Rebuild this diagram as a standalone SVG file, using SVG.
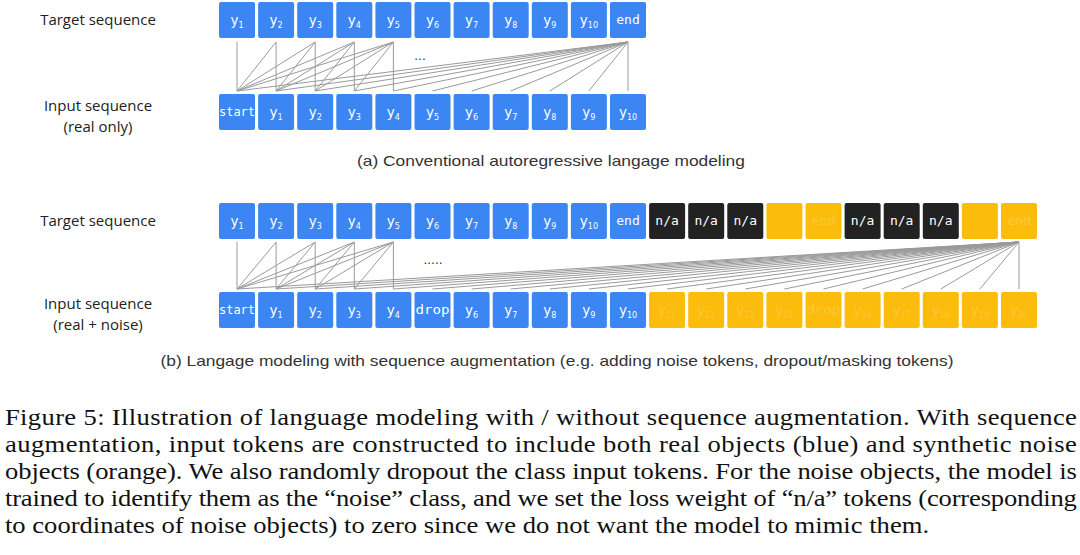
<svg xmlns="http://www.w3.org/2000/svg" width="1080" height="555" viewBox="0 0 1080 555">
<style>
.b{fill:#3b86f2}
.k{fill:#222222}
.o{fill:#fcbc0c}
.t{font-family:"DejaVu Sans",sans-serif;font-size:13.5px;fill:#ffffff;text-anchor:middle}
.m{font-family:"DejaVu Sans Mono",monospace;font-size:13px;fill:#ffffff;text-anchor:middle}
.f{fill:#ffffff;fill-opacity:0.2}
.s{font-size:8px}
.lab{font-family:"Open Sans",sans-serif;font-size:15px;fill:#222;text-anchor:middle}
.sub{font-family:"Liberation Sans",sans-serif;font-size:15px;fill:#333;text-anchor:middle}
.cap{font-family:"Liberation Serif",serif;font-size:23px;fill:#111}
.c line{stroke:#9a9a9a;stroke-width:1}
</style>
<rect width="1080" height="555" fill="#ffffff"/>

<!-- labels -->
<g id="labels">
<text class="lab" x="98" y="25">Target sequence</text>
<text class="lab" x="98" y="111">Input sequence</text>
<text class="lab" x="98" y="132">(real only)</text>
<text class="lab" x="98" y="226">Target sequence</text>
<text class="lab" x="98" y="309">Input sequence</text>
<text class="lab" x="98" y="330">(real + noise)</text>
<g transform="scale(1.157 1)">
<text class="sub" x="476.2" y="166">(a) Conventional autoregressive langage modeling</text>
<text class="sub" x="481.4" y="366">(b) Langage modeling with sequence augmentation (e.g. adding noise tokens, dropout/masking tokens)</text>
</g>
<text x="420" y="60" style="font-family:'DejaVu Sans',sans-serif;font-size:12px;fill:#333;text-anchor:middle">...</text>
<text x="433" y="264" style="font-family:'DejaVu Sans',sans-serif;font-size:12px;fill:#333;text-anchor:middle">.....</text>
</g>

<!-- connectors -->
<g id="connectors" class="c">
<line x1="237" y1="42" x2="237" y2="91"/>
<line x1="276.1" y1="42" x2="237" y2="91"/><line x1="276.1" y1="42" x2="276.1" y2="91"/>
<line x1="315.2" y1="42" x2="237" y2="91"/><line x1="315.2" y1="42" x2="276.1" y2="91"/><line x1="315.2" y1="42" x2="315.2" y2="91"/>
<line x1="354.3" y1="42" x2="237" y2="91"/><line x1="354.3" y1="42" x2="276.1" y2="91"/><line x1="354.3" y1="42" x2="315.2" y2="91"/><line x1="354.3" y1="42" x2="354.3" y2="91"/>
<line x1="393.4" y1="42" x2="237" y2="91"/><line x1="393.4" y1="42" x2="276.1" y2="91"/><line x1="393.4" y1="42" x2="315.2" y2="91"/><line x1="393.4" y1="42" x2="354.3" y2="91"/><line x1="393.4" y1="42" x2="393.4" y2="91"/>
<line x1="628" y1="42" x2="237" y2="91"/><line x1="628" y1="42" x2="276.1" y2="91"/><line x1="628" y1="42" x2="315.2" y2="91"/><line x1="628" y1="42" x2="354.3" y2="91"/><line x1="628" y1="42" x2="393.4" y2="91"/><line x1="628" y1="42" x2="432.5" y2="91"/><line x1="628" y1="42" x2="471.6" y2="91"/><line x1="628" y1="42" x2="510.7" y2="91"/><line x1="628" y1="42" x2="549.8" y2="91"/><line x1="628" y1="42" x2="588.9" y2="91"/><line x1="628" y1="42" x2="628" y2="91"/>

<line x1="237" y1="242" x2="237" y2="289"/>
<line x1="276.1" y1="242" x2="237" y2="289"/><line x1="276.1" y1="242" x2="276.1" y2="289"/>
<line x1="315.2" y1="242" x2="237" y2="289"/><line x1="315.2" y1="242" x2="276.1" y2="289"/><line x1="315.2" y1="242" x2="315.2" y2="289"/>
<line x1="354.3" y1="242" x2="237" y2="289"/><line x1="354.3" y1="242" x2="276.1" y2="289"/><line x1="354.3" y1="242" x2="315.2" y2="289"/><line x1="354.3" y1="242" x2="354.3" y2="289"/>
<line x1="393.4" y1="242" x2="237" y2="289"/><line x1="393.4" y1="242" x2="276.1" y2="289"/><line x1="393.4" y1="242" x2="315.2" y2="289"/><line x1="393.4" y1="242" x2="354.3" y2="289"/><line x1="393.4" y1="242" x2="393.4" y2="289"/>
<line x1="1019" y1="242" x2="237" y2="289"/><line x1="1019" y1="242" x2="276.1" y2="289"/><line x1="1019" y1="242" x2="315.2" y2="289"/><line x1="1019" y1="242" x2="354.3" y2="289"/><line x1="1019" y1="242" x2="393.4" y2="289"/><line x1="1019" y1="242" x2="432.5" y2="289"/><line x1="1019" y1="242" x2="471.6" y2="289"/><line x1="1019" y1="242" x2="510.7" y2="289"/><line x1="1019" y1="242" x2="549.8" y2="289"/><line x1="1019" y1="242" x2="588.9" y2="289"/><line x1="1019" y1="242" x2="628" y2="289"/><line x1="1019" y1="242" x2="667.1" y2="289"/><line x1="1019" y1="242" x2="706.2" y2="289"/><line x1="1019" y1="242" x2="745.3" y2="289"/><line x1="1019" y1="242" x2="784.4" y2="289"/><line x1="1019" y1="242" x2="823.5" y2="289"/><line x1="1019" y1="242" x2="862.6" y2="289"/><line x1="1019" y1="242" x2="901.7" y2="289"/><line x1="1019" y1="242" x2="940.8" y2="289"/><line x1="1019" y1="242" x2="979.9" y2="289"/><line x1="1019" y1="242" x2="1019" y2="289"/>
</g>

<!-- (a) target row -->
<g id="a-target">
<rect class="b" x="219" y="2" width="36" height="36" rx="2"/><text class="t" x="237" y="25">y<tspan class="s" dy="3">1</tspan></text>
<rect class="b" x="258.1" y="2" width="36" height="36" rx="2"/><text class="t" x="276.1" y="25">y<tspan class="s" dy="3">2</tspan></text>
<rect class="b" x="297.2" y="2" width="36" height="36" rx="2"/><text class="t" x="315.2" y="25">y<tspan class="s" dy="3">3</tspan></text>
<rect class="b" x="336.3" y="2" width="36" height="36" rx="2"/><text class="t" x="354.3" y="25">y<tspan class="s" dy="3">4</tspan></text>
<rect class="b" x="375.4" y="2" width="36" height="36" rx="2"/><text class="t" x="393.4" y="25">y<tspan class="s" dy="3">5</tspan></text>
<rect class="b" x="414.5" y="2" width="36" height="36" rx="2"/><text class="t" x="432.5" y="25">y<tspan class="s" dy="3">6</tspan></text>
<rect class="b" x="453.6" y="2" width="36" height="36" rx="2"/><text class="t" x="471.6" y="25">y<tspan class="s" dy="3">7</tspan></text>
<rect class="b" x="492.7" y="2" width="36" height="36" rx="2"/><text class="t" x="510.7" y="25">y<tspan class="s" dy="3">8</tspan></text>
<rect class="b" x="531.8" y="2" width="36" height="36" rx="2"/><text class="t" x="549.8" y="25">y<tspan class="s" dy="3">9</tspan></text>
<rect class="b" x="570.9" y="2" width="36" height="36" rx="2"/><text class="t" x="588.9" y="25">y<tspan class="s" dy="3">10</tspan></text>
<rect class="b" x="610" y="2" width="36" height="36" rx="2"/><text class="m" x="628" y="24">end</text>
</g>

<!-- (a) input row -->
<g id="a-input">
<rect class="b" x="219" y="94" width="36" height="36" rx="2"/><text class="m" x="237" y="116" textLength="36" lengthAdjust="spacingAndGlyphs">start</text>
<rect class="b" x="258.1" y="94" width="36" height="36" rx="2"/><text class="t" x="276.1" y="117">y<tspan class="s" dy="3">1</tspan></text>
<rect class="b" x="297.2" y="94" width="36" height="36" rx="2"/><text class="t" x="315.2" y="117">y<tspan class="s" dy="3">2</tspan></text>
<rect class="b" x="336.3" y="94" width="36" height="36" rx="2"/><text class="t" x="354.3" y="117">y<tspan class="s" dy="3">3</tspan></text>
<rect class="b" x="375.4" y="94" width="36" height="36" rx="2"/><text class="t" x="393.4" y="117">y<tspan class="s" dy="3">4</tspan></text>
<rect class="b" x="414.5" y="94" width="36" height="36" rx="2"/><text class="t" x="432.5" y="117">y<tspan class="s" dy="3">5</tspan></text>
<rect class="b" x="453.6" y="94" width="36" height="36" rx="2"/><text class="t" x="471.6" y="117">y<tspan class="s" dy="3">6</tspan></text>
<rect class="b" x="492.7" y="94" width="36" height="36" rx="2"/><text class="t" x="510.7" y="117">y<tspan class="s" dy="3">7</tspan></text>
<rect class="b" x="531.8" y="94" width="36" height="36" rx="2"/><text class="t" x="549.8" y="117">y<tspan class="s" dy="3">8</tspan></text>
<rect class="b" x="570.9" y="94" width="36" height="36" rx="2"/><text class="t" x="588.9" y="117">y<tspan class="s" dy="3">9</tspan></text>
<rect class="b" x="610" y="94" width="36" height="36" rx="2"/><text class="t" x="628" y="117">y<tspan class="s" dy="3">10</tspan></text>
</g>

<!-- (b) target row -->
<g id="b-target">
<rect class="b" x="219" y="203" width="36" height="36" rx="2"/><text class="t" x="237" y="226">y<tspan class="s" dy="3">1</tspan></text>
<rect class="b" x="258.1" y="203" width="36" height="36" rx="2"/><text class="t" x="276.1" y="226">y<tspan class="s" dy="3">2</tspan></text>
<rect class="b" x="297.2" y="203" width="36" height="36" rx="2"/><text class="t" x="315.2" y="226">y<tspan class="s" dy="3">3</tspan></text>
<rect class="b" x="336.3" y="203" width="36" height="36" rx="2"/><text class="t" x="354.3" y="226">y<tspan class="s" dy="3">4</tspan></text>
<rect class="b" x="375.4" y="203" width="36" height="36" rx="2"/><text class="t" x="393.4" y="226">y<tspan class="s" dy="3">5</tspan></text>
<rect class="b" x="414.5" y="203" width="36" height="36" rx="2"/><text class="t" x="432.5" y="226">y<tspan class="s" dy="3">6</tspan></text>
<rect class="b" x="453.6" y="203" width="36" height="36" rx="2"/><text class="t" x="471.6" y="226">y<tspan class="s" dy="3">7</tspan></text>
<rect class="b" x="492.7" y="203" width="36" height="36" rx="2"/><text class="t" x="510.7" y="226">y<tspan class="s" dy="3">8</tspan></text>
<rect class="b" x="531.8" y="203" width="36" height="36" rx="2"/><text class="t" x="549.8" y="226">y<tspan class="s" dy="3">9</tspan></text>
<rect class="b" x="570.9" y="203" width="36" height="36" rx="2"/><text class="t" x="588.9" y="226">y<tspan class="s" dy="3">10</tspan></text>
<rect class="b" x="610" y="203" width="36" height="36" rx="2"/><text class="m" x="628" y="225">end</text>
<rect class="k" x="649.1" y="203" width="36" height="36" rx="2"/><text class="m" x="667.1" y="225">n/a</text>
<rect class="k" x="688.2" y="203" width="36" height="36" rx="2"/><text class="m" x="706.2" y="225">n/a</text>
<rect class="k" x="727.3" y="203" width="36" height="36" rx="2"/><text class="m" x="745.3" y="225">n/a</text>
<rect class="o" x="766.4" y="203" width="36" height="36" rx="2"/>
<rect class="o" x="805.5" y="203" width="36" height="36" rx="2"/><text class="m f" x="823.5" y="225">end</text>
<rect class="k" x="844.6" y="203" width="36" height="36" rx="2"/><text class="m" x="862.6" y="225">n/a</text>
<rect class="k" x="883.7" y="203" width="36" height="36" rx="2"/><text class="m" x="901.7" y="225">n/a</text>
<rect class="k" x="922.8" y="203" width="36" height="36" rx="2"/><text class="m" x="940.8" y="225">n/a</text>
<rect class="o" x="961.9" y="203" width="36" height="36" rx="2"/>
<rect class="o" x="1001" y="203" width="36" height="36" rx="2"/><text class="m f" x="1019" y="225">end</text>
</g>

<!-- (b) input row -->
<g id="b-input">
<rect class="b" x="219" y="292" width="36" height="36" rx="2"/><text class="m" x="237" y="314" textLength="36" lengthAdjust="spacingAndGlyphs">start</text>
<rect class="b" x="258.1" y="292" width="36" height="36" rx="2"/><text class="t" x="276.1" y="315">y<tspan class="s" dy="3">1</tspan></text>
<rect class="b" x="297.2" y="292" width="36" height="36" rx="2"/><text class="t" x="315.2" y="315">y<tspan class="s" dy="3">2</tspan></text>
<rect class="b" x="336.3" y="292" width="36" height="36" rx="2"/><text class="t" x="354.3" y="315">y<tspan class="s" dy="3">3</tspan></text>
<rect class="b" x="375.4" y="292" width="36" height="36" rx="2"/><text class="t" x="393.4" y="315">y<tspan class="s" dy="3">4</tspan></text>
<rect class="b" x="414.5" y="292" width="36" height="36" rx="2"/><text class="m" x="432.5" y="314" textLength="34" lengthAdjust="spacingAndGlyphs">drop</text>
<rect class="b" x="453.6" y="292" width="36" height="36" rx="2"/><text class="t" x="471.6" y="315">y<tspan class="s" dy="3">6</tspan></text>
<rect class="b" x="492.7" y="292" width="36" height="36" rx="2"/><text class="t" x="510.7" y="315">y<tspan class="s" dy="3">7</tspan></text>
<rect class="b" x="531.8" y="292" width="36" height="36" rx="2"/><text class="t" x="549.8" y="315">y<tspan class="s" dy="3">8</tspan></text>
<rect class="b" x="570.9" y="292" width="36" height="36" rx="2"/><text class="t" x="588.9" y="315">y<tspan class="s" dy="3">9</tspan></text>
<rect class="b" x="610" y="292" width="36" height="36" rx="2"/><text class="t" x="628" y="315">y<tspan class="s" dy="3">10</tspan></text>
<rect class="o" x="649.1" y="292" width="36" height="36" rx="2"/><text class="t f" x="667.1" y="315">y<tspan class="s" dy="3">11</tspan></text>
<rect class="o" x="688.2" y="292" width="36" height="36" rx="2"/><text class="t f" x="706.2" y="315">y<tspan class="s" dy="3">12</tspan></text>
<rect class="o" x="727.3" y="292" width="36" height="36" rx="2"/><text class="t f" x="745.3" y="315">y<tspan class="s" dy="3">13</tspan></text>
<rect class="o" x="766.4" y="292" width="36" height="36" rx="2"/><text class="t f" x="784.4" y="315">y<tspan class="s" dy="3">14</tspan></text>
<rect class="o" x="805.5" y="292" width="36" height="36" rx="2"/><text class="m f" x="823.5" y="314" textLength="34" lengthAdjust="spacingAndGlyphs">drop</text>
<rect class="o" x="844.6" y="292" width="36" height="36" rx="2"/><text class="t f" x="862.6" y="315">y<tspan class="s" dy="3">16</tspan></text>
<rect class="o" x="883.7" y="292" width="36" height="36" rx="2"/><text class="t f" x="901.7" y="315">y<tspan class="s" dy="3">17</tspan></text>
<rect class="o" x="922.8" y="292" width="36" height="36" rx="2"/><text class="t f" x="940.8" y="315">y<tspan class="s" dy="3">18</tspan></text>
<rect class="o" x="961.9" y="292" width="36" height="36" rx="2"/><text class="t f" x="979.9" y="315">y<tspan class="s" dy="3">19</tspan></text>
<rect class="o" x="1001" y="292" width="36" height="36" rx="2"/><text class="t f" x="1019" y="315">y<tspan class="s" dy="3">20</tspan></text>
</g>

<!-- caption -->
<g id="caption" class="cap" transform="scale(1.157 1)">
<text x="4.3" y="425" textLength="926.5" lengthAdjust="spacing">Figure 5: Illustration of language modeling with / without sequence augmentation. With sequence</text>
<text x="4.3" y="452" textLength="926.5" lengthAdjust="spacing">augmentation, input tokens are constructed to include both real objects (blue) and synthetic noise</text>
<text x="4.3" y="479" textLength="926.5" lengthAdjust="spacing">objects (orange). We also randomly dropout the class input tokens. For the noise objects, the model is</text>
<text x="4.3" y="506" textLength="926.5" lengthAdjust="spacing">trained to identify them as the “noise” class, and we set the loss weight of “n/a” tokens (corresponding</text>
<text x="4.3" y="533">to coordinates of noise objects) to zero since we do not want the model to mimic them.</text>
</g>
</svg>
